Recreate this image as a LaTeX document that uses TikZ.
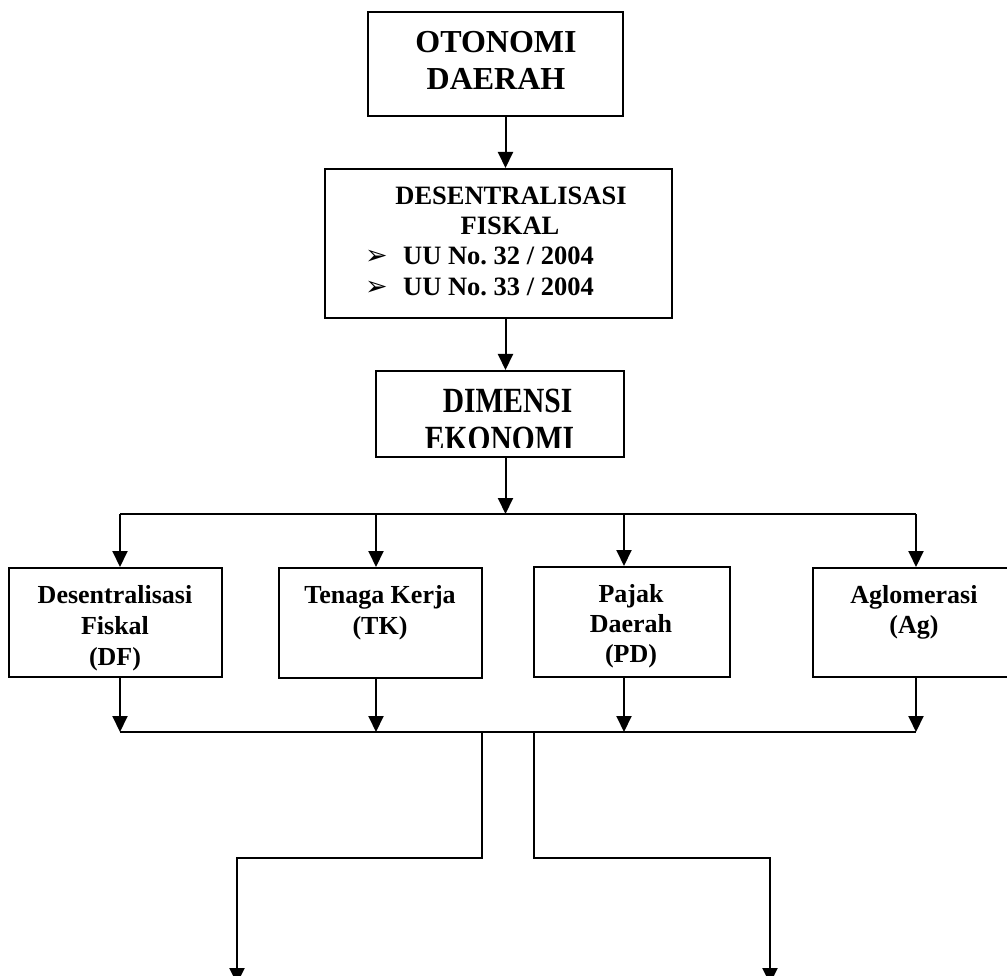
\documentclass[tikz,border=0pt]{standalone}
\usepackage{fontspec}
\setmainfont{Liberation Serif}
\newfontfamily\symfont{DejaVu Sans}
\usetikzlibrary{arrows.meta}
\frenchspacing
\begin{document}
\begin{tikzpicture}[x=1pt,y=-1pt,
  boxst/.style={draw,line width=2pt,inner sep=0pt,fill=white},
  txt/.style={anchor=base,inner sep=0pt},
  txtw/.style={anchor=base west,inner sep=0pt},
  arr/.style={-{Triangle[width=15pt,length=16pt]},line width=2pt},
  ln/.style={line width=2pt}]
\useasboundingbox (0,0) rectangle (1007,976);
\clip (0,0) rectangle (1007,976);
% column coordinates
\coordinate (sp) at (505.5,0);
\coordinate (c1) at (120,0);
\coordinate (c2) at (376,0);
\coordinate (c3) at (624,0);
\coordinate (c4) at (916,0);
\coordinate (hy1) at (0,514);
\coordinate (hy2) at (0,732);
\coordinate (l1) at (482,0);
\coordinate (r1) at (534,0);
\coordinate (hy3) at (0,857.5);
\coordinate (l2) at (237,0);
\coordinate (r2) at (770,0);
\coordinate (bot) at (0,984);

% boxes
\node[boxst,minimum width=255pt,minimum height=104pt] (ot) at (495.3,64) {};
\node[boxst,minimum width=347pt,minimum height=149pt] (df) at (498.5,243.5) {};
\node[boxst,minimum width=248pt,minimum height=86pt] (dim) at (500,414) {};
\node[boxst,minimum width=213pt,minimum height=109pt] (b1) at (115.5,622.5) {};
\node[boxst,minimum width=203pt,minimum height=110pt] (b2) at (380.5,623) {};
\node[boxst,minimum width=196pt,minimum height=110pt] (b3) at (632,622) {};
\node[boxst,minimum width=202pt,minimum height=109pt] (b4) at (914,622.5) {};

% texts
\begin{scope}[font=\bfseries\fontsize{32}{37}\selectfont]
\node[txt] (ota) at (496,53) {OTONOMI};
\node[txt] (otb) at (496,90) {DAERAH};
\end{scope}
\begin{scope}[font=\bfseries\fontsize{26.5}{30}\selectfont]
\node[txt] (dfa) at (511,205) {DESENTRALISASI};
\node[txt] (dfb) at (510,235) {FISKAL};
\node[txtw] (dfc) at (365,265) {\symfont\fontsize{27}{30}\selectfont ➢};
\node[txtw] (dfd) at (403,265) {UU No. 32 / 2004};
\node[txtw] (dfe) at (365,295.5) {\symfont\fontsize{27}{30}\selectfont ➢};
\node[txtw] (dff) at (403,295.5) {UU No. 33 / 2004};
\end{scope}
\begin{scope}[font=\bfseries\fontsize{29.5}{34}\selectfont]
\clip (377,372) rectangle (623,447);
\node[txt] (dima) at (507.5,412.7) {\scalebox{1}[1.2]{DIMENSI}};
\node[txt] (dimb) at (499.5,450.7) {\scalebox{1}[1.2]{EKONOMI}};
\end{scope}
\begin{scope}[font=\bfseries\fontsize{26}{31}\selectfont]
\node[txt] (b1a) at (115,603.3) {Desentralisasi};
\node[txt] (b1b) at (115,634.3) {Fiskal};
\node[txt] (b1c) at (115,665) {(DF)};
\node[txt] (b2a) at (380,603.3) {Tenaga Kerja};
\node[txt] (b2b) at (380,634.3) {(TK)};
\node[txt] (b3a) at (631,602) {Pajak};
\node[txt] (b3b) at (631,632.7) {Daerah};
\node[txt] (b3c) at (631,662.7) {(PD)};
\node[txt] (b4a) at (914,603) {Aglomerasi};
\node[txt] (b4b) at (914,633) {(Ag)};
\end{scope}

% connectors
\draw[arr] (sp |- ot.south) -- (sp |- df.north);
\draw[arr] (sp |- df.south) -- (sp |- dim.north);
\draw[arr] (sp |- dim.south) -- (sp |- hy1);
\draw[ln] (c1 |- hy1) -- (c4 |- hy1);
\draw[arr] (c1 |- hy1) -- (c1 |- b1.north);
\draw[arr] (c2 |- hy1) -- (c2 |- b2.north);
\draw[arr] (c3 |- hy1) -- (c3 |- b3.north);
\draw[arr] (c4 |- hy1) -- (c4 |- b4.north);
\draw[arr] (c1 |- b1.south) -- (c1 |- hy2);
\draw[arr] (c2 |- b2.south) -- (c2 |- hy2);
\draw[arr] (c3 |- b3.south) -- (c3 |- hy2);
\draw[arr] (c4 |- b4.south) -- (c4 |- hy2);
\draw[ln] (c1 |- hy2) -- (c4 |- hy2);
\draw[arr] (l1 |- hy2) -- (l1 |- hy3) -- (l2 |- hy3) -- (l2 |- bot);
\draw[arr] (r1 |- hy2) -- (r1 |- hy3) -- (r2 |- hy3) -- (r2 |- bot);
\end{tikzpicture}
\end{document}
